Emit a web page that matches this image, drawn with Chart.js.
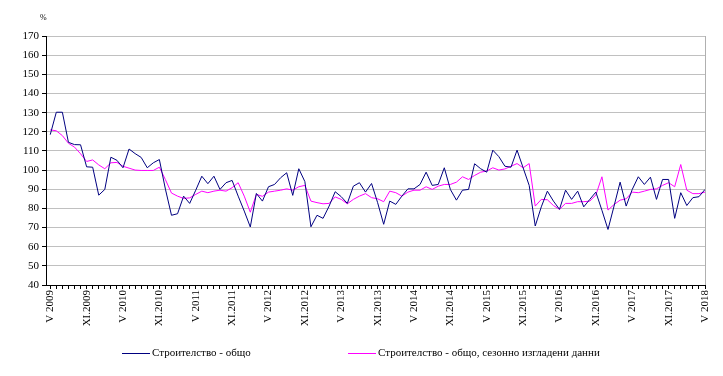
<!DOCTYPE html>
<html>
<head>
<meta charset="utf-8">
<script src="https://cdn.jsdelivr.net/npm/chart.js@4.4.0/dist/chart.umd.min.js"></script>
<style>
  body { margin: 0; background: #fff; }
</style>
</head>
<body>
<canvas id="chart" width="723" height="376"></canvas>
<script>
// monthly indices, V 2009 .. V 2018
const tickLabels = ["V 2009", "XI.2009", "V 2010", "XI.2010", "V 2011", "XI.2011", "V 2012", "XI.2012",
  "V 2013", "XI.2013", "V 2014", "XI.2014", "V 2015", "XI.2015", "V 2016", "XI.2016", "V 2017", "XI.2017", "V 2018"];

const seriesNames = ["Строителство - общо", "Строителство - общо, сезонно изгладени данни"];

const construction = [
  118.5, 130.2, 130.2, 114.5, 113.3, 113.2, 101.7, 101.5, 86.9, 89.9, 106.7, 105.1,
  101.2, 111, 108.6, 106.6, 101.2, 103.8, 105.5, 90, 76.4, 77.2, 86.4, 82.6,
  89.5, 96.8, 92.9, 96.8, 89.9, 93.4, 94.6, 86.4, 78.6, 70.3, 87.8, 83.8,
  91.3, 92.5, 96, 98.6, 86.8, 100.7, 94, 70.4, 76.4, 74.8, 81.2, 88.7,
  86.1, 82.6, 91.6, 93.4, 88.5, 93, 83, 71.7, 83.8, 82.1, 86.4, 90.2,
  90.2, 92.5, 98.9, 92, 92.5, 101.2, 89.9, 84.3, 89.5, 89.9, 103.3, 100.7,
  98.9, 110.4, 107, 102, 101.5, 110.4, 101.2, 92, 70.8, 80.8, 89, 83.8,
  79.5, 89.5, 84.7, 89, 80.8, 84.7, 88.5, 79, 69, 81.2, 93.7, 81.2,
  89.9, 96.5, 92.5, 96.3, 84.7, 95.1, 95.1, 74.8, 88.2, 81.5, 85.6, 86.1,
  89.9
];

const constructionSA = [
  121, 120.5, 118, 114, 112, 108.5, 104.5, 105.3, 102.7, 100.7, 103.8, 104,
  102, 101, 100, 99.8, 99.8, 99.8, 101.5, 95, 88, 86.4, 85.2, 85.5,
  87.3, 89, 88.2, 89, 89.5, 89, 90.8, 93.4, 86.4, 78, 87.3, 86.3,
  88.5, 89, 89.5, 90.2, 89.5, 91.3, 92, 83.8, 83, 82.4, 82.6, 86,
  84.7, 82.4, 84.7, 86.4, 87.7, 85.6, 85, 83.5, 89, 88.2, 86.4, 88.5,
  89.5, 89.5, 91.3, 89.9, 91.6, 92.5, 92.5, 93.7, 96.5, 95.1, 97.2, 98.9,
  99.5, 101.2, 100, 100.6, 102, 103.4, 101.2, 103.4, 81.2, 84.7, 84.5, 81.5,
  79.5, 82.6, 82.6, 83.5, 83.5, 83.8, 87, 96.5, 79.1, 82, 84.3, 85,
  88.5, 88.2, 89, 89.9, 90.2, 92, 93.4, 91.3, 102.9, 89.5, 87.7, 87.7,
  88.5
];

const serif = '"Liberation Serif", "Times New Roman", serif';

const toPoints = arr => arr.map((v, i) => ({ x: i, y: v }));

// legend + "%" sign + right border
const extras = {
  id: 'extras',
  afterDraw(chart) {
    const ctx = chart.ctx;
    const area = chart.chartArea;
    ctx.save();
    ctx.strokeStyle = '#b0b0b0';
    ctx.lineWidth = 1;
    ctx.beginPath();
    ctx.moveTo(Math.round(area.right) + 0.5, area.top);
    ctx.lineTo(Math.round(area.right) + 0.5, area.bottom);
    ctx.stroke();

    ctx.fillStyle = '#000';
    ctx.font = '8px ' + serif;
    ctx.textAlign = 'left';
    ctx.textBaseline = 'middle';
    ctx.fillText('%', 40, 18);

    const starts = [122, 348];
    ctx.font = '11px ' + serif;
    chart.data.datasets.forEach((ds, i) => {
      const x = starts[i], y = 353;
      ctx.strokeStyle = ds.borderColor;
      ctx.beginPath();
      ctx.moveTo(x, y + 0.5);
      ctx.lineTo(x + 28, y + 0.5);
      ctx.stroke();
      ctx.fillStyle = '#000';
      ctx.fillText(ds.label, x + 30, y);
    });
    ctx.restore();
  }
};

new Chart(document.getElementById('chart'), {
  type: 'line',
  data: {
    datasets: [{
      label: seriesNames[0],
      data: toPoints(construction),
      borderColor: '#000080',
      borderWidth: 1,
      pointRadius: 0,
      tension: 0,
      fill: false
    }, {
      label: seriesNames[1],
      data: toPoints(constructionSA),
      borderColor: '#ff00ff',
      borderWidth: 1,
      pointRadius: 0,
      tension: 0,
      fill: false
    }]
  },
  options: {
    responsive: false,
    animation: false,
    layout: { padding: { top: 36, right: 18, left: 0, bottom: 0 } },
    plugins: {
      legend: { display: false },
      tooltip: { enabled: false }
    },
    scales: {
      x: {
        type: 'linear',
        min: -0.7,
        max: 108,
        afterBuildTicks: s => { s.ticks = construction.map((v, i) => ({ value: i })); },
        afterFit: s => { s.height = 91; },
        grid: { drawOnChartArea: false, tickColor: '#000', tickLength: 4 },
        border: { color: '#000' },
        ticks: {
          autoSkip: false,
          maxRotation: 90,
          minRotation: 90,
          padding: 1,
          color: '#000',
          font: { family: serif, size: 11 },
          callback: v => (v % 6 === 0 ? tickLabels[v / 6] : '')
        }
      },
      y: {
        min: 40,
        max: 170,
        afterFit: s => { s.width = 46; },
        grid: { color: '#c0c0c0', tickColor: '#000', tickLength: 4 },
        border: { color: '#000' },
        ticks: {
          stepSize: 10,
          padding: 3,
          color: '#000',
          font: { family: serif, size: 11 }
        }
      }
    }
  },
  plugins: [extras]
});
</script>
</body>
</html>
